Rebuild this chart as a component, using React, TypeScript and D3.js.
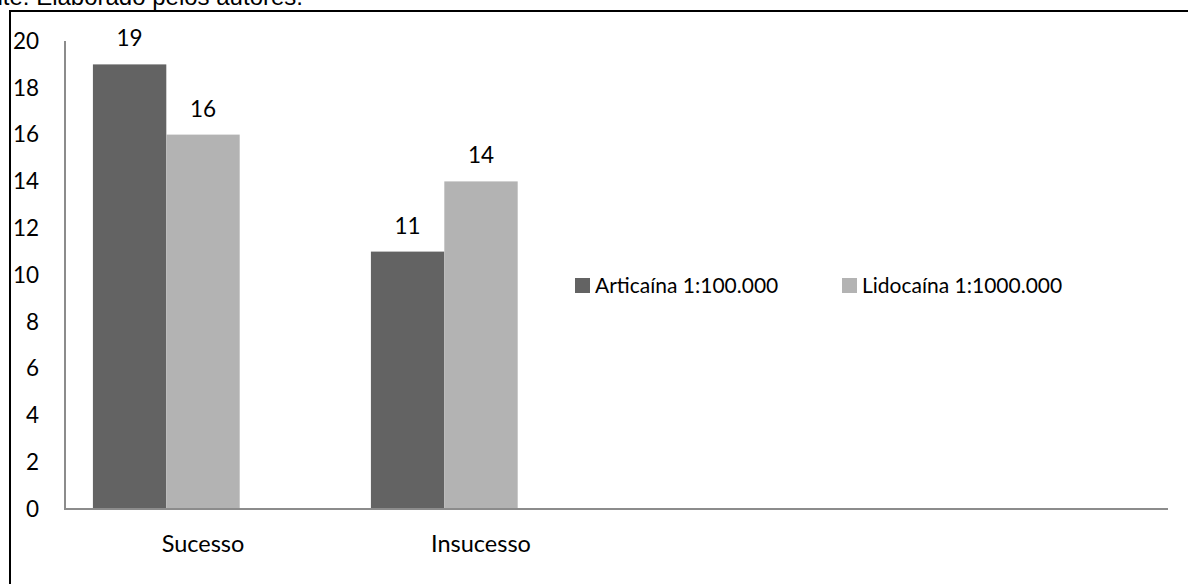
import React from "react";
import * as d3 from "d3";

const categories = ["Sucesso", "Insucesso"];
const seriesNames = ["Articaína 1:100.000", "Lidocaína 1:1000.000"];
const articaina = [19, 11];
const lidocaina = [16, 14];
const yTicks = [0, 2, 4, 6, 8, 10, 12, 14, 16, 18, 20];
const caption = "Fonte: Elaborado pelos autores.";

const colors = ["#636363", "#b3b3b3"];
const font = "Lato, 'Open Sans', sans-serif";
const fs = 22.5;

const App = () => {
  const width = 1188;
  const height = 584;
  const values = [articaina, lidocaina];

  const x = d3.scaleBand().domain(categories).range([64, 620]).padding(0);
  // excel left room for a third (empty) series in each group
  const xSub = d3
    .scaleBand()
    .domain([...seriesNames, "blank"])
    .range([0, x.bandwidth()])
    .paddingOuter(0.394)
    .paddingInner(0);
  const y = d3.scaleLinear().domain([0, 20]).range([509, 41]);

  const legendX = [575, 842];

  return (
    <svg
      width={width}
      height={height}
      style={{ position: "absolute", left: 0, top: 0, background: "#fff" }}
    >
      <text
        x={303}
        y={5}
        textAnchor="end"
        fontFamily="'Liberation Sans', Arial, sans-serif"
        fontSize={24}
        fill="#000"
      >
        {caption}
      </text>
      <path d={`M10,${height} V11 H${width}`} fill="none" stroke="#000" strokeWidth={2} />

      {/* y tick labels */}
      {yTicks.map((t) => (
        <text
          key={t}
          x={39}
          y={y(t)}
          dy="0.35em"
          textAnchor="end"
          fontFamily={font}
          fontSize={fs}
          fill="#000"
        >
          {t}
        </text>
      ))}

      {/* bars */}
      {categories.map((c, i) => (
        <g key={c} transform={`translate(${x(c)},0)`}>
          {seriesNames.map((s, j) => (
            <g key={s}>
              <rect
                x={xSub(s)}
                y={y(values[j][i])}
                width={xSub.bandwidth()}
                height={y(0) - y(values[j][i])}
                fill={colors[j]}
              />
              <text
                x={(xSub(s) as number) + xSub.bandwidth() / 2}
                y={y(values[j][i]) - 18}
                textAnchor="middle"
                fontFamily={font}
                fontSize={fs}
                fill="#000"
              >
                {values[j][i]}
              </text>
            </g>
          ))}
          <text
            x={x.bandwidth() / 2}
            y={552}
            textAnchor="middle"
            fontFamily={font}
            fontSize={23.5}
            fill="#000"
          >
            {c}
          </text>
        </g>
      ))}

      {/* axes */}
      <line x1={65} x2={65} y1={y(20)} y2={y(0)} stroke="#8c8c8c" strokeWidth={2} />
      <line x1={64} x2={1168} y1={y(0)} y2={y(0)} stroke="#8c8c8c" strokeWidth={2} />

      {/* legend */}
      {seriesNames.map((s, j) => (
        <g key={s} transform={`translate(${legendX[j]},278)`}>
          <rect x={0} y={0} width={15} height={15} fill={colors[j]} />
          <text x={20} y={15} fontFamily={font} fontSize={21} fill="#000">
            {s}
          </text>
        </g>
      ))}
    </svg>
  );
};

export default App;
